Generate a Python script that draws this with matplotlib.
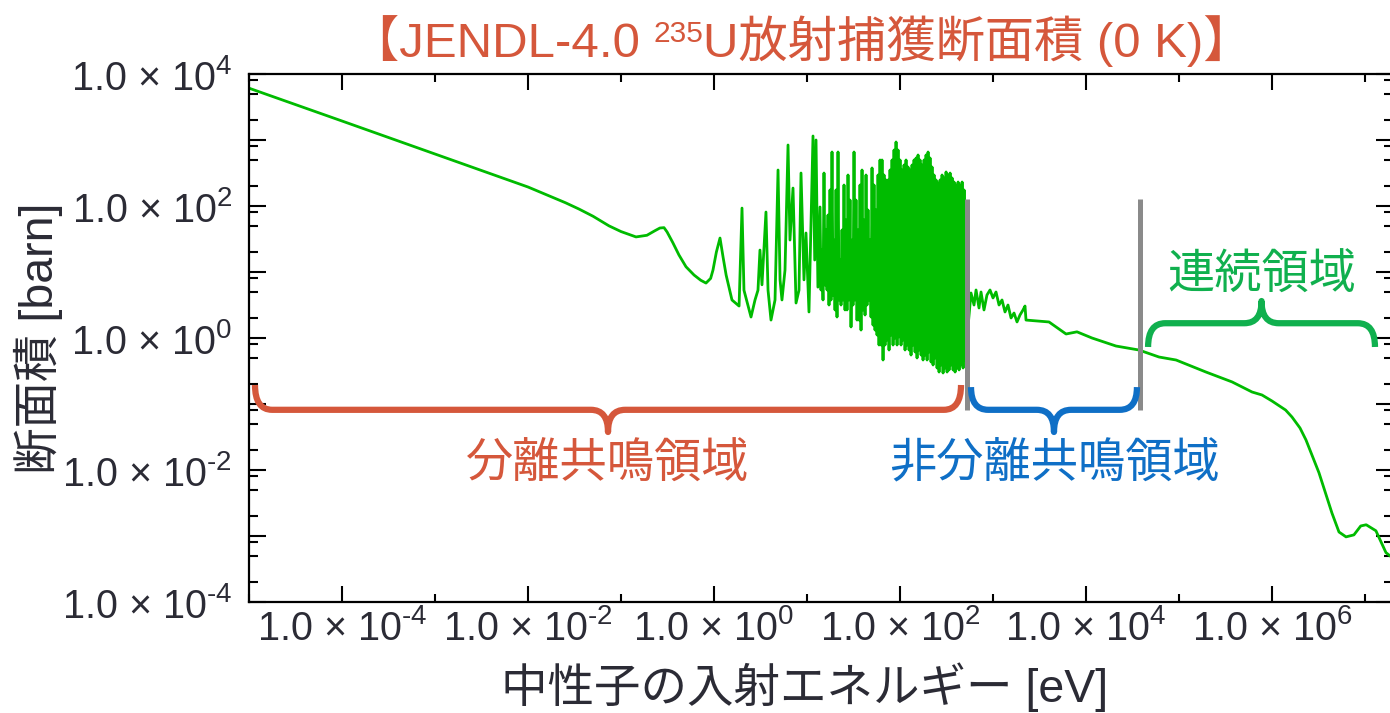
import numpy as np
import matplotlib
matplotlib.use('Agg')
import matplotlib.pyplot as plt
from matplotlib.path import Path
from matplotlib.patches import PathPatch
from matplotlib.ticker import FixedLocator, FuncFormatter, NullFormatter

plt.rcParams['font.family'] = ['Liberation Sans', 'Noto Sans CJK JP']
plt.rcParams['mathtext.fontset'] = 'custom'
plt.rcParams['mathtext.rm'] = 'Liberation Sans'
plt.rcParams['mathtext.it'] = 'Liberation Sans:italic'
plt.rcParams['mathtext.bf'] = 'Liberation Sans:bold'

# --- data (energy in eV, cross section in barn) ---
# thermal 1/v part and the first isolated resonances
thermal_e = [1e-5, 1e-4, 1e-3, 1e-2, 0.0253, 0.0353, 0.05, 0.0743, 0.1, 0.145,
             0.19, 0.23, 0.262, 0.29, 0.313, 0.36, 0.42, 0.5, 0.61, 0.72,
             0.82, 0.92, 0.975, 1.06, 1.16, 1.25, 1.35, 1.56, 1.86, 2.0,
             2.1, 2.5, 2.76, 2.97, 3.12, 3.28, 3.62, 3.81, 4.1, 4.53,
             4.88, 5.13, 5.38, 5.8, 6.25, 6.56, 7.07, 7.62, 8.2, 8.62,
             9.28, 9.75, 10.5, 11.6, 12.1, 12.5, 13.1]
thermal_xs = [6100, 1940, 614, 194, 112, 90, 70, 50, 41, 34,
              36, 42, 46.4, 47, 40.4, 28, 18.1, 12, 9.0, 7.5,
              6.8, 8.0, 10.7, 20, 32.7, 17, 9.0, 3.77, 3.05, 93,
              5.3, 2.08, 3.77, 5.3, 21.5, 6.4, 81, 5.3, 1.87, 3.77,
              351, 7.6, 3.77, 10.7, 840, 30.5, 187, 3.39, 5.3, 316,
              7.6, 39, 2.48, 1150, 15.2, 1000, 5.9]

# dense resolved resonances, alternating peak / valley
rrr_e = [13.80, 14.14, 14.50, 14.86, 15.23, 15.62, 16.01, 16.41, 16.82, 17.24,
         17.68, 18.12, 18.57, 19.04, 19.52, 20.01, 20.51, 21.02, 21.55, 22.09,
         22.64, 23.21, 23.79, 24.39, 25.00, 25.63, 26.27, 26.93, 27.60, 28.30,
         29.01, 29.73, 30.48, 31.24, 32.03, 32.83, 33.65, 34.50, 35.36, 36.25,
         37.16, 38.09, 39.05, 40.03, 41.03, 42.06, 43.11, 44.19, 45.30, 46.44,
         47.60, 48.80, 50.02, 51.28, 52.56, 53.88, 55.23, 56.62, 58.04, 59.49,
         60.98, 62.51, 64.08, 65.69, 67.34, 69.03, 70.76, 72.54, 74.36, 76.22,
         78.13, 80.09, 82.10, 84.16, 86.27, 88.44, 90.66, 92.93, 95.26, 97.65,
         100.1, 102.6, 105.2, 107.8, 110.5, 113.3, 116.1, 119.0, 122.0, 125.1,
         128.2, 131.4, 134.7, 138.1, 141.6, 145.1, 148.8, 152.5, 156.3, 160.2,
         164.2, 168.4, 172.6, 176.9, 181.4, 185.9, 190.6, 195.4, 200.3, 205.3,
         210.4, 215.7, 221.1, 226.7, 232.4, 238.2, 244.2, 250.3, 256.6, 263.0,
         269.6, 276.4, 283.3, 290.4, 297.7, 305.2, 312.8, 320.7, 328.7, 337.0,
         345.4, 354.1, 363.0, 372.1, 381.4, 391.0, 400.8, 410.9, 421.2, 431.8,
         442.6, 453.7, 465.1, 476.8, 488.8, 501.0]
rrr_xs = [96.6, 5.34, 21.6, 3.77, 316, 6.35, 43.3, 5.34, 73.0, 3.16,
          175, 3.77, 658, 4.48, 30.5, 2.66, 175, 2.08, 658, 3.77,
          15.2, 3.16, 43.3, 3.77, 208, 2.66, 61.4, 2.66, 295, 3.77,
          123, 1.47, 30.5, 3.16, 658, 3.77, 123, 1.87, 43.3, 1.87,
          208, 1.32, 351, 2.66, 61.4, 2.23, 295, 3.16, 87.0, 3.77,
          30.5, 2.08, 377, 1.57, 208, 1.32, 87.0, 1.11, 295, 0.783,
          498, 0.783, 498, 0.464, 295, 0.783, 248, 0.933, 248, 0.658,
          351, 1.11, 498, 0.783, 705, 1.0, 933, 0.783, 705, 1.04,
          498, 0.783, 351, 0.933, 418, 0.658, 498, 0.783, 390, 0.658,
          351, 0.552, 418, 0.783, 498, 0.614, 534, 0.498, 593, 0.658,
          498, 0.552, 418, 0.464, 498, 0.552, 593, 0.464, 658, 0.614,
          534, 0.433, 390, 0.390, 295, 0.498, 248, 0.351, 223, 0.305,
          248, 0.390, 295, 0.295, 266, 0.351, 328, 0.305, 295, 0.328,
          316, 0.390, 266, 0.328, 231, 0.305, 208, 0.351, 231, 0.328,
          208, 0.390, 231, 0.351, 175, 0.464]

# unresolved resonance region
urr_e = [580, 625, 657, 707, 743, 800, 861, 929, 1000, 1077,
         1161, 1250, 1346, 1449, 1563, 1683, 1812, 1950, 2102, 2208, 2264]
urr_xs = [4.81, 3.16, 5.34, 2.85, 4.98, 2.66, 4.48, 5.34, 4.04, 4.98,
          3.16, 3.77, 2.48, 3.16, 2.01, 2.39, 1.75, 2.23, 2.66, 3.05, 1.87]

# smooth fast region
fast_e = [4000, 6100, 8000, 11600, 21000, 37000, 61000, 93000, 195000, 372000,
          610000, 780000, 1.0e6, 1.4e6, 1.64e6, 2.0e6, 2.32e6, 3.2e6, 4.41e6, 5.25e6,
          6.25e6, 7.6e6, 9.0e6, 1.03e7, 1.31e7, 1.68e7, 2.0e7]
fast_xs = [1.75, 1.15, 1.24, 1.0, 0.756, 0.658, 0.515, 0.464, 0.305, 0.216,
           0.152, 0.137, 0.111, 0.081, 0.0635, 0.0433, 0.0285, 0.00907, 0.00223, 0.00115,
           0.00097, 0.00104, 0.00142, 0.00148, 0.0012, 0.00056, 0.00046]

# region boundaries (eV) and the cross-section span of the marker lines
boundary_e = [520, 3.8e4]
boundary_xs = [0.081, 128]

# brace ends (eV)
brace_resolved = (1.16e-5, 453)
brace_unresolved = (580, 3.53e4)
brace_continuum = (4.65e4, 1.28e7)

# ticks
x_major = [1e-4, 1e-2, 1e0, 1e2, 1e4, 1e6]
x_minor = [1e-5, 1e-3, 1e-1, 1e1, 1e3, 1e5, 1e7]
y_major = [1e-4, 1e-3, 1e-2, 1e-1, 1e0, 1e1, 1e2, 1e3, 1e4]
y_minor_subs = [2, 5, 8]

RED = '#D5573B'
BLUE = '#0F6FC6'
GREEN = '#10B04E'
LINE = '#00BB00'
TXT = '#2b2b35'

energy = np.concatenate([thermal_e, rrr_e, urr_e, fast_e])
xs = np.concatenate([thermal_xs, rrr_xs, urr_xs, fast_xs])

fig = plt.figure(figsize=(13.9, 7.13), dpi=100)
ax = fig.add_axes([0.17914, 0.15568, 0.82302, 0.74053])

ax.plot(energy, xs, color=LINE, lw=2.0, zorder=2)
ax.set_xscale('log')
ax.set_yscale('log')
ax.set_xlim(1e-5, 2e7)
ax.set_ylim(1e-4, 1e4)

ax.vlines(boundary_e, boundary_xs[0], boundary_xs[1], colors='#8a8a8a', lw=3.6, zorder=3)


def sci_label(v, pos):
    k = int(round(np.log10(v)))
    exp = ('\u2010' + str(-k)) if k < 0 else str(k)
    return rf'1.0 $\times$ 10$^{{{exp}}}$'


def sci_label_even(v, pos):
    k = int(round(np.log10(v)))
    return sci_label(v, pos) if k % 2 == 0 else ''


y_minor = [s * d for d in y_major[:-1] for s in y_minor_subs]

ax.xaxis.set_major_locator(FixedLocator(x_major))
ax.xaxis.set_minor_locator(FixedLocator(x_minor))
ax.xaxis.set_major_formatter(FuncFormatter(sci_label))
ax.xaxis.set_minor_formatter(NullFormatter())
ax.yaxis.set_major_locator(FixedLocator(y_major))
ax.yaxis.set_minor_locator(FixedLocator(y_minor))
ax.yaxis.set_major_formatter(FuncFormatter(sci_label_even))
ax.yaxis.set_minor_formatter(NullFormatter())

ax.tick_params(which='both', direction='in', top=True, right=True, width=1.5,
               labelcolor=TXT, labelsize=28.5)
ax.tick_params(axis='x', which='major', length=11.5, pad=5)
ax.tick_params(axis='x', which='minor', length=6)
ax.tick_params(axis='y', which='major', length=12, pad=12)
ax.tick_params(axis='y', which='minor', length=6.5)
for s in ax.spines.values():
    s.set_linewidth(1.6)

ax.set_xlabel('中性子の入射エネルギー [eV]', fontsize=33.5, color=TXT)
ax.xaxis.set_label_coords(0.486, -0.114)
ax.set_ylabel('断面積 [barn]', fontsize=33.5, color=TXT)
ax.yaxis.set_label_coords(-0.163, 0.5)


def brace(ax, e0, e1, y_end, y_bar, y_tip, color, rx=0.015):
    to_ax = ax.transData + ax.transAxes.inverted()
    x0 = to_ax.transform((e0, 1))[0]
    x1 = to_ax.transform((e1, 1))[0]
    xm = (x0 + x1) / 2
    verts = [(x0, y_end), (x0, y_bar), (x0 + rx, y_bar),
             (xm - rx, y_bar), (xm, y_bar), (xm, y_tip),
             (xm, y_bar), (xm + rx, y_bar),
             (x1 - rx, y_bar), (x1, y_bar), (x1, y_end)]
    codes = [Path.MOVETO, Path.CURVE3, Path.CURVE3,
             Path.LINETO, Path.CURVE3, Path.CURVE3,
             Path.CURVE3, Path.CURVE3,
             Path.LINETO, Path.CURVE3, Path.CURVE3]
    patch = PathPatch(Path(verts, codes), fill=False, ec=color, lw=4.5,
                      capstyle='butt', joinstyle='round',
                      transform=ax.transAxes, clip_on=False, zorder=4)
    ax.add_patch(patch)
    return xm


xm = brace(ax, *brace_resolved, 0.411, 0.364, 0.322, RED)
ax.text(xm, 0.259, '分離共鳴領域', transform=ax.transAxes, ha='center', va='center',
        fontsize=34, color=RED)
xm = brace(ax, *brace_unresolved, 0.407, 0.364, 0.322, BLUE)
ax.text(xm, 0.259, '非分離共鳴領域', transform=ax.transAxes, ha='center', va='center',
        fontsize=34, color=BLUE)
xm = brace(ax, *brace_continuum, 0.483, 0.528, 0.570, GREEN)
ax.text(xm, 0.6155, '連続領域', transform=ax.transAxes, ha='center', va='center',
        fontsize=34, color=GREEN)

# title with superscript mass number
t1 = fig.text(0.2518, 0.9194, '【JENDL-4.0 ', fontsize=35.5, color=RED, ha='left', va='baseline')
t2 = ax.annotate('235', xy=(1, 0), xycoords=t1, xytext=(0, 14), textcoords='offset points',
                 fontsize=21.5, color=RED, ha='left', va='bottom', annotation_clip=False)
t3 = ax.annotate('U放射捕獲断面積 (0 K)】', xy=(1, 0), xycoords=(t2, t1),
                 fontsize=35.5, color=RED, ha='left', va='bottom', annotation_clip=False)

fig.savefig('out.png', dpi=100, facecolor='white')
